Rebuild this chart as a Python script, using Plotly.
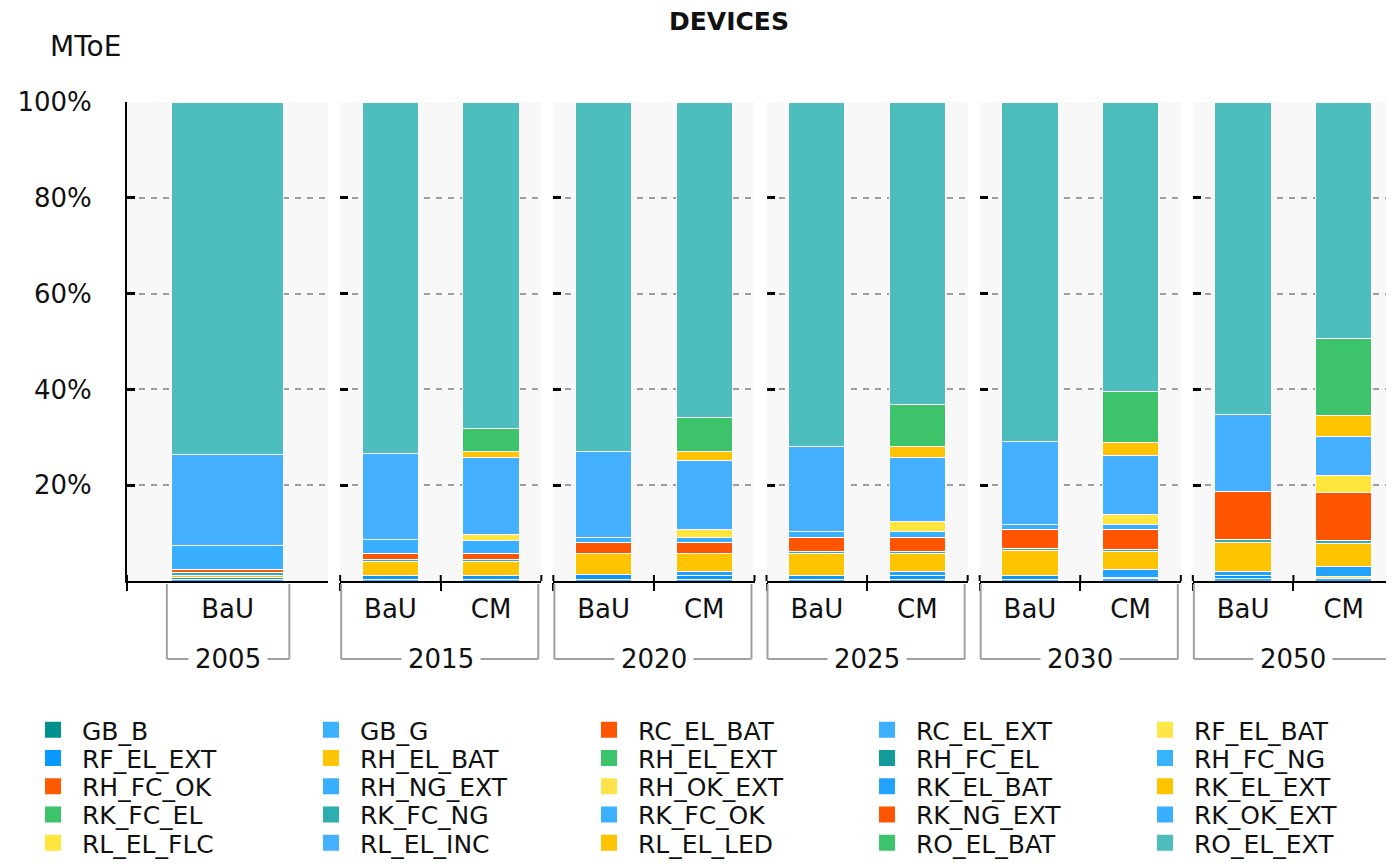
import plotly.graph_objects as go
from plotly.subplots import make_subplots

# ---------------- data ----------------
YEARS = ["2005", "2015", "2020", "2025", "2030", "2050"]
BAR_YEAR = ["2005", "2015", "2015", "2020", "2020", "2025", "2025", "2030", "2030", "2050", "2050"]
BAR_SCEN = ["BaU", "BaU", "CM", "BaU", "CM", "BaU", "CM", "BaU", "CM", "BaU", "CM"]

SERIES_NAMES = ["GB_B", "GB_G", "RC_EL_BAT", "RC_EL_EXT", "RF_EL_BAT",
                "RF_EL_EXT", "RH_EL_BAT", "RH_EL_EXT", "RH_FC_EL", "RH_FC_NG",
                "RH_FC_OK", "RH_NG_EXT", "RH_OK_EXT", "RK_EL_BAT", "RK_EL_EXT",
                "RK_FC_EL", "RK_FC_NG", "RK_FC_OK", "RK_NG_EXT", "RK_OK_EXT",
                "RL_EL_FLC", "RL_EL_INC", "RL_EL_LED", "RO_EL_BAT", "RO_EL_EXT"]

# shares (%) per bar, same order as BAR_YEAR / BAR_SCEN
GB_B      = [0, 0, 0, 0, 0, 0, 0, 0, 0, 0, 0]
GB_G      = [0.3, 0.4, 0.4, 0.4, 0.4, 0.4, 0.4, 0.4, 0.5, 0.6, 0.56]
RC_EL_BAT = [0, 0, 0, 0, 0, 0, 0, 0, 0, 0, 0]
RC_EL_EXT = [0, 0, 0, 0, 0, 0, 0, 0, 0, 0, 0]
RF_EL_BAT = [0, 0, 0, 0, 0, 0, 0, 0, 0.3, 0, 0.4]
RF_EL_EXT = [0.4, 0.85, 0.85, 0.9, 0.85, 0.85, 0.85, 0.85, 0, 0.65, 0]
RH_EL_BAT = [0, 0, 0, 0, 0, 0, 0, 0, 0, 0, 0]
RH_EL_EXT = [0, 0, 0, 0, 0, 0, 0, 0, 0, 0, 0]
RH_FC_EL  = [0, 0, 0, 0, 0, 0, 0, 0, 0, 0, 0]
RH_FC_NG  = [0, 0, 0, 0, 0, 0, 0, 0, 0, 0, 0]
RH_FC_OK  = [0, 0, 0, 0, 0, 0, 0, 0, 0, 0, 0]
RH_NG_EXT = [0, 0, 0, 0, 0, 0, 0, 0, 0, 0, 0]
RH_OK_EXT = [0, 0, 0, 0, 0, 0, 0, 0, 0, 0, 0]
RK_EL_BAT = [0, 0, 0, 0, 0.7, 0, 0.7, 0, 1.54, 0.7, 2.16]
RK_EL_EXT = [0.5, 2.85, 2.85, 4.35, 3.7, 4.4, 3.7, 5.1, 3.9, 6.06, 4.66]
RK_FC_EL  = [0, 0, 0, 0, 0, 0, 0, 0, 0, 0, 0]
RK_FC_NG  = [0.5, 0.3, 0.3, 0, 0, 0.45, 0.45, 0.35, 0.35, 0.62, 0.62]
RK_FC_OK  = [0, 0, 0, 0, 0, 0, 0, 0, 0, 0, 0]
RK_NG_EXT = [0.77, 1.3, 1.26, 2.35, 2.36, 2.9, 2.92, 4.1, 4.1, 10.03, 10.03]
RK_OK_EXT = [4.9, 2.9, 2.9, 1.0, 1.04, 1.25, 1.25, 1.1, 1.1, 0, 0]
RL_EL_FLC = [0, 0, 1.05, 0, 1.6, 0, 2.1, 0, 2.1, 0, 3.7]
RL_EL_INC = [19.0, 18.1, 16.1, 18.0, 14.6, 17.75, 13.35, 17.2, 12.3, 16.0, 8.0]
RL_EL_LED = [0, 0, 1.25, 0, 1.75, 0, 2.3, 0, 2.7, 0, 4.33]
RO_EL_BAT = [0, 0, 4.9, 0, 7.1, 0, 8.9, 0, 10.65, 0, 16.07]
RO_EL_EXT = [73.63, 73.3, 68.14, 73.0, 65.9, 72.0, 63.08, 70.9, 60.46, 65.34, 49.47]

SERIES_VALUES = [GB_B, GB_G, RC_EL_BAT, RC_EL_EXT, RF_EL_BAT,
                 RF_EL_EXT, RH_EL_BAT, RH_EL_EXT, RH_FC_EL, RH_FC_NG,
                 RH_FC_OK, RH_NG_EXT, RH_OK_EXT, RK_EL_BAT, RK_EL_EXT,
                 RK_FC_EL, RK_FC_NG, RK_FC_OK, RK_NG_EXT, RK_OK_EXT,
                 RL_EL_FLC, RL_EL_INC, RL_EL_LED, RO_EL_BAT, RO_EL_EXT]

Y_TICKS = [20, 40, 60, 80, 100]
Y_TICK_TEXT = ["20%", "40%", "60%", "80%", "100%"]

# ---------------- style ----------------
COLORS = ["#00908E", "#3AB2FF", "#FF5500", "#3AB0FF", "#FFE545",
          "#0A98FF", "#FFC600", "#3CC46A", "#149C9C", "#3AB3FF",
          "#FF5A00", "#38AEFF", "#FFE24A", "#22A2FF", "#FFC400",
          "#3DC36A", "#2EAEAE", "#3BB2FF", "#FF5500", "#39AFFF",
          "#FFE53C", "#45B0FF", "#FFC300", "#3DC36A", "#4DBDBD"]
FONT = "DejaVu Sans"
TXT = "#111111"

# page shows the figure offset by the 8px body margin
W, H = 1386, 857
ML, MR, MT, MB = 119, 0, 94, 284
PW = W - ML - MR
PH = H - MT - MB
YB = MT + PH  # figure-pixel y of the plot bottom

fig = make_subplots(rows=1, cols=6, shared_yaxes=True,
                    horizontal_spacing=12 / PW)

LEGEND_IDS = ["legend", "legend2", "legend3", "legend4", "legend5"]

for si, (name, vals, col) in enumerate(zip(SERIES_NAMES, SERIES_VALUES, COLORS)):
    for ci, yr in enumerate(YEARS):
        idx = [k for k, y in enumerate(BAR_YEAR) if y == yr]
        fig.add_trace(go.Bar(
            x=[BAR_SCEN[k] for k in idx],
            y=[vals[k] for k in idx],
            name=name, legendgroup=name, showlegend=False,
            marker=dict(color=col, line=dict(color="white", width=1)),
        ), row=1, col=ci + 1)
    # legend entry with a larger square swatch
    fig.add_trace(go.Scatter(
        x=[None], y=[None], mode="markers", name=name, legendgroup=name,
        legend=LEGEND_IDS[si // 5], showlegend=True, hoverinfo="skip",
        marker=dict(symbol="square", size=22, color=col),
    ), row=1, col=1)

legend_common = dict(orientation="h", xref="paper", yref="paper",
                     x=(16 - ML) / PW, xanchor="left", yanchor="middle",
                     itemwidth=48, entrywidth=215, entrywidthmode="pixels",
                     tracegroupgap=0,
                     font=dict(family=FONT, size=25, color=TXT),
                     traceorder="normal", bgcolor="rgba(0,0,0,0)")
legends = {}
for r, lid in enumerate(LEGEND_IDS):
    yc = 722 + 28.25 * r
    legends[lid] = dict(legend_common, y=-(yc - YB) / PH)

fig.update_layout(
    width=W, height=H,
    margin=dict(l=ML, r=MR, t=MT, b=MB, autoexpand=False),
    barmode="stack", barnorm="percent", bargap=0.44,
    plot_bgcolor="#F8F8F8", paper_bgcolor="white",
    font=dict(family=FONT, color=TXT),
    title=dict(text="DEVICES", x=721 / W, xanchor="center",
               y=1 - 13 / H, yanchor="middle",
               font=dict(family=FONT, size=25, weight="bold", color=TXT)),
    showlegend=True,
    **legends,
)

fig.update_yaxes(range=[0, 100], tickvals=Y_TICKS, ticktext=Y_TICK_TEXT,
                 showgrid=True, gridcolor="#9E9E9E", gridwidth=1.5, griddash="6px,6px",
                 ticks="inside", ticklen=8, tickwidth=3, tickcolor="black",
                 zeroline=False, showline=False, showticklabels=False)
fig.update_yaxes(showticklabels=True, showline=True, linecolor="black", linewidth=2,
                 tickfont=dict(family=FONT, size=26, color=TXT),
                 ticklabelstandoff=28, row=1, col=1)

fig.update_xaxes(type="category", showline=True, linecolor="black", linewidth=2,
                 ticks="outside", tickson="boundaries", ticklen=8, tickwidth=2,
                 tickcolor="black", showgrid=False, zeroline=False,
                 tickfont=dict(family=FONT, size=26, color=TXT),
                 ticklabelstandoff=4)

# short tick stubs above the x axis line (ticks cross the axis in the original)
stub = dict(color="black", width=2)
for ci in range(len(YEARS)):
    xr = "x domain" if ci == 0 else f"x{ci + 1} domain"
    for xd in ([0.0] if ci == 0 else [0.0, 0.5, 1.0]):
        fig.add_shape(type="line", xref=xr, yref="paper", x0=xd, x1=xd,
                      y0=0, y1=6 / PH, line=stub)

# group brackets + year labels
ybr_top = -3 / PH
ybr_bot = -(651 - YB) / PH
for ci, yr in enumerate(YEARS):
    xr = "x domain" if ci == 0 else f"x{ci + 1} domain"
    a, b = (0.198, 0.807) if ci == 0 else (0.005, 0.985)
    lstyle = dict(color="#A0A0A0", width=2)
    fig.add_shape(type="line", xref=xr, yref="paper", x0=a, x1=a,
                  y0=ybr_top, y1=ybr_bot, line=lstyle)
    fig.add_shape(type="line", xref=xr, yref="paper", x0=b, x1=b,
                  y0=ybr_top, y1=ybr_bot, line=lstyle)
    fig.add_shape(type="line", xref=xr, yref="paper", x0=a, x1=b,
                  y0=ybr_bot, y1=ybr_bot, line=lstyle)
    fig.add_annotation(text=yr, xref=xr, yref="paper", x=0.5, y=ybr_bot,
                       xanchor="center", yanchor="middle", showarrow=False,
                       bgcolor="white", borderpad=6,
                       font=dict(family=FONT, size=26, color=TXT))

fig.add_annotation(text="MToE", xref="paper", yref="paper",
                   x=(77 - ML) / PW, y=(YB - 38) / PH,
                   xanchor="center", yanchor="middle", showarrow=False,
                   font=dict(family=FONT, size=28, color=TXT))

fig.write_html("out.html")
